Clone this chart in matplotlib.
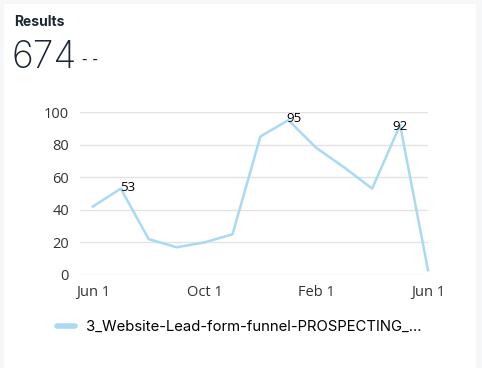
import matplotlib.pyplot as plt
from matplotlib.patches import Rectangle
from matplotlib.lines import Line2D

# Monthly results, Jun 1 to Jun 1
values = [42, 53, 22, 17, 20, 25, 85, 95, 78, 66, 53, 92, 3]
tick_pos = [0, 4, 8, 12]
tick_labels = ['Jun 1', 'Oct 1', 'Feb 1', 'Jun 1']
labeled = {1: 53, 7: 95, 11: 92}
series_name = '3_Website-Lead-form-funnel-PROSPECTING_...'
total = '674'

line_color = '#a9d9f3'
text_color = '#333333'

fig = plt.figure(figsize=(4.82, 3.68), dpi=100)
fig.patch.set_facecolor('#f6f7f9')
card = Rectangle((4 / 482, 0), 472 / 482, 1 - 4 / 368,
                 transform=fig.transFigure, facecolor='white',
                 edgecolor='none', zorder=-5)
fig.patches.append(card)

fig.text(14 / 482, 1 - 22 / 368, 'Results', fontsize=10, fontweight='bold',
         family='Inter', color='#1d2733', va='center')
fig.text(12 / 482, 1 - 68 / 368, total, fontsize=27, family='Inter',
         fontweight='light', color='#1d2733', va='baseline')
fig.text(82 / 482, 1 - 64 / 368, '- -', fontsize=11, family='DejaVu Sans',
         color='#1d2733', va='baseline')

ax = fig.add_axes([80 / 482, 1 - 275 / 368, 348 / 482, 163 / 368])
ax.set_zorder(2)
ax.patch.set_alpha(0)
x = list(range(len(values)))
ax.plot(x, values, color=line_color, linewidth=1.8, clip_on=False,
        solid_joinstyle='round')

offsets = {1: (7, 1), 7: (6, 2), 11: (0, -1)}
for i, v in labeled.items():
    ax.annotate(str(v), (i, v), xytext=offsets[i], textcoords='offset pixels',
                ha='center', va='center', fontsize=9.5, family='Open Sans',
                color='black')

ax.set_xlim(-0.46, 12)
ax.set_ylim(0, 100)
ax.set_yticks([0, 20, 40, 60, 80, 100])
ax.set_xticks(tick_pos)
ax.set_xticklabels(tick_labels)
ax.grid(axis='y', color='#e3e3e3', linewidth=1)
ax.set_axisbelow(True)
for s in ax.spines.values():
    s.set_visible(False)
ax.tick_params(length=0, labelsize=10.5, labelcolor=text_color)
ax.tick_params(axis='y', pad=8)
ax.tick_params(axis='x', pad=7)
for lbl in ax.get_xticklabels() + ax.get_yticklabels():
    lbl.set_family('Open Sans')

handle = Line2D([], [], color=line_color, linewidth=4, solid_capstyle='round')
fig.legend([handle], [series_name], loc='center left',
           bbox_to_anchor=(50 / 482, 1 - 327 / 368), frameon=False,
           handlelength=1.2, handletextpad=0.7, borderpad=0,
           prop={'family': 'Inter', 'size': 10.7})

fig.savefig('out.png', dpi=100)
